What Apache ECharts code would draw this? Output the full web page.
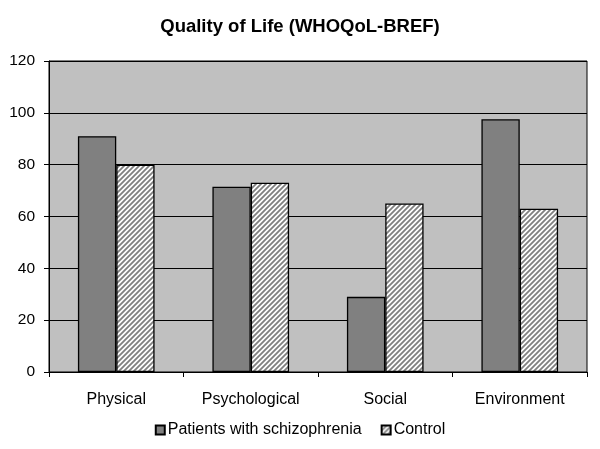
<!DOCTYPE html>
<html>
<head>
<meta charset="utf-8">
<script src="https://cdn.jsdelivr.net/npm/echarts@6/dist/echarts.min.js"></script>
<style>
html,body{margin:0;padding:0;background:#fff;}
#c{width:600px;height:449px;}
</style>
</head>
<body>
<div id="c"></div>
<script>
var categories = ['Physical', 'Psychological', 'Social', 'Environment'];
var patients = [91, 71.5, 29, 97.5];
var control = [80, 73, 65, 63];
var yTicks = [0, 20, 40, 60, 80, 100, 120];

function hatch() {
  var s = 5;
  var cv = document.createElement('canvas');
  cv.width = s; cv.height = s;
  var g = cv.getContext('2d');
  g.fillStyle = '#ffffff';
  g.fillRect(0, 0, s, s);
  g.strokeStyle = '#808080';
  g.lineWidth = 1.8;
  g.beginPath();
  g.moveTo(-1, s + 1); g.lineTo(s + 1, -1);
  g.moveTo(-1, 1); g.lineTo(1, -1);
  g.moveTo(s - 1, s + 1); g.lineTo(s + 1, s - 1);
  g.stroke();
  return cv;
}

var chart = echarts.init(document.getElementById('c'));
var font = "'Liberation Sans', Arial, sans-serif";
chart.setOption({
  animation: false,
  backgroundColor: '#ffffff',
  textStyle: { fontFamily: font, color: '#000' },
  title: {
    text: 'Quality of Life (WHOQoL-BREF)',
    left: 'center',
    top: 12,
    textStyle: { fontFamily: font, fontSize: 18.5, fontWeight: 'bold', color: '#000' }
  },
  legend: {
    bottom: 6,
    left: 'center',
    itemWidth: 9,
    itemHeight: 9,
    itemGap: 19,
    icon: 'rect',
    textStyle: { fontFamily: font, fontSize: 16, color: '#000', padding: [0, 0, 0, -2] },
    data: ['Patients with schizophrenia', 'Control']
  },
  grid: {
    left: 49, right: 13, top: 61, bottom: 77,
    show: true, backgroundColor: '#c0c0c0', borderColor: '#000', borderWidth: 1
  },
  xAxis: {
    type: 'category',
    data: categories,
    axisLine: { lineStyle: { color: '#000', width: 1 } },
    axisTick: { show: true, length: 5, lineStyle: { color: '#000' } },
    axisLabel: { fontFamily: font, fontSize: 16, color: '#000', margin: 20 }
  },
  yAxis: {
    type: 'value',
    min: 0, max: 120, interval: 20,
    axisLine: { show: true, lineStyle: { color: '#000', width: 1 } },
    axisTick: { show: true, length: 5, lineStyle: { color: '#000' } },
    axisLabel: { fontFamily: font, fontSize: 15.5, color: '#000', margin: 14,
      formatter: function (v) { return yTicks.indexOf(v) >= 0 ? String(v) : ''; } },
    splitLine: { show: true, lineStyle: { color: '#000', width: 1.2 } }
  },
  series: [
    {
      name: 'Patients with schizophrenia',
      type: 'bar',
      data: patients,
      barGap: '0%',
      barCategoryGap: '43%',
      itemStyle: { color: '#808080', borderColor: '#000', borderWidth: 1.3 }
    },
    {
      name: 'Control',
      type: 'bar',
      data: control,
      itemStyle: { color: { image: hatch(), repeat: 'repeat' }, borderColor: '#000', borderWidth: 1.3 }
    }
  ]
});
</script>
</body>
</html>
